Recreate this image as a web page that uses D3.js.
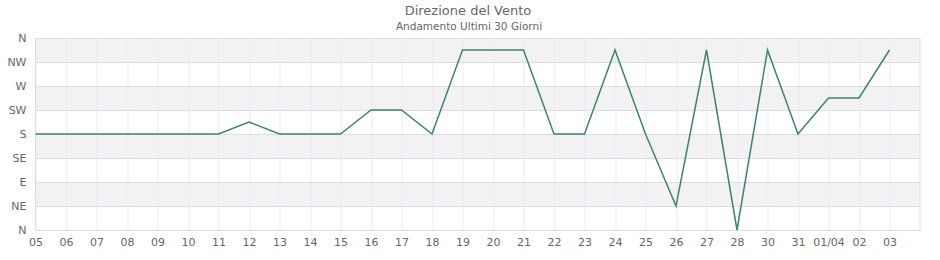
<!DOCTYPE html>
<html>
<head>
<meta charset="utf-8">
<script src="https://cdn.jsdelivr.net/npm/d3@7"></script>
<style>
  body { margin: 0; background: #fff; }
  svg { font-family: "DejaVu Sans", sans-serif; }
</style>
</head>
<body>
<svg id="chart" width="940" height="260"></svg>
<script>
const days = ["05", "06", "07", "08", "09", "10", "11", "12", "13", "14", "15", "16", "17", "18", "19",
  "20", "21", "22", "23", "24", "25", "26", "27", "28", "30", "31", "01/04", "02", "03"];
// wind direction in degrees
const direction = [180, 180, 180, 180, 180, 180, 180, 202.5, 180, 180, 180, 225, 225, 180, 337.5,
  337.5, 337.5, 180, 180, 337.5, 180, 45, 337.5, 0, 337.5, 180, 247.5, 247.5, 337.5];
const compassLabels = ["N", "NE", "E", "SE", "S", "SW", "W", "NW", "N"];
const compassDegrees = [0, 45, 90, 135, 180, 225, 270, 315, 360];

const margin = { top: 38, right: 20, bottom: 30, left: 35.5 };
const width = 940;
const height = 260;
const innerWidth = width - margin.left - margin.right;
const innerHeight = height - margin.top - margin.bottom;

const svg = d3.select("#chart");

svg.append("text")
  .attr("x", 468).attr("y", 15)
  .attr("text-anchor", "middle")
  .style("font-size", "13px").attr("fill", "#666")
  .text("Direzione del Vento");
svg.append("text")
  .attr("x", 469).attr("y", 30)
  .attr("text-anchor", "middle")
  .style("font-size", "10.5px").attr("fill", "#666")
  .text("Andamento Ultimi 30 Giorni");

const g = svg.append("g").attr("transform", `translate(${margin.left},${margin.top})`);

const x = d3.scaleLinear().domain([0, days.length]).range([0, innerWidth]);
const y = d3.scaleLinear().domain([0, 360]).range([innerHeight, 0]);

// alternating bands
g.selectAll(".band")
  .data(d3.range(0, 8))
  .join("rect")
  .attr("x", 0)
  .attr("width", innerWidth)
  .attr("y", (i) => y(compassDegrees[i + 1]))
  .attr("height", (i) => y(compassDegrees[i]) - y(compassDegrees[i + 1]))
  .attr("fill", (i) => (i % 2 === 0 ? "#fff" : "#f2f2f2"));

// vertical grid
g.selectAll(".vgrid")
  .data(days)
  .join("line")
  .attr("x1", (d, i) => Math.round(x(i)) + 0.5)
  .attr("x2", (d, i) => Math.round(x(i)) + 0.5)
  .attr("y1", 0).attr("y2", innerHeight)
  .attr("stroke", "#ebe8fa");

// horizontal grid
g.selectAll(".hgrid")
  .data(compassDegrees)
  .join("line")
  .attr("x1", 0).attr("x2", innerWidth)
  .attr("y1", (d) => Math.round(y(d)) + 0.5)
  .attr("y2", (d) => Math.round(y(d)) + 0.5)
  .attr("stroke", "#ddd");

g.append("rect")
  .attr("x", 0).attr("y", 0.5)
  .attr("width", innerWidth).attr("height", innerHeight)
  .attr("fill", "none").attr("stroke", "#ddd");

// y axis labels
const yAxis = d3.axisLeft(y).tickValues(compassDegrees)
  .tickFormat((d, i) => compassLabels[i]).tickSize(0).tickPadding(9);
g.append("g").call(yAxis)
  .call((a) => a.select(".domain").remove())
  .selectAll("text").style("font-size", "11px").attr("fill", "#666")
  .style("font-family", "DejaVu Sans, sans-serif");

// x axis labels
const xAxis = d3.axisBottom(x).tickValues(d3.range(days.length))
  .tickFormat((i) => days[i]).tickSize(0).tickPadding(8);
g.append("g").attr("transform", `translate(0,${innerHeight})`).call(xAxis)
  .call((a) => a.select(".domain").remove())
  .selectAll("text").style("font-size", "11px").attr("fill", "#666")
  .style("font-family", "DejaVu Sans, sans-serif");

const line = d3.line().x((d, i) => x(i)).y((d) => y(d));
g.append("path")
  .datum(direction)
  .attr("d", line)
  .attr("fill", "none")
  .attr("stroke", "#3b8570")
  .attr("stroke-width", 1.5);
</script>
</body>
</html>
